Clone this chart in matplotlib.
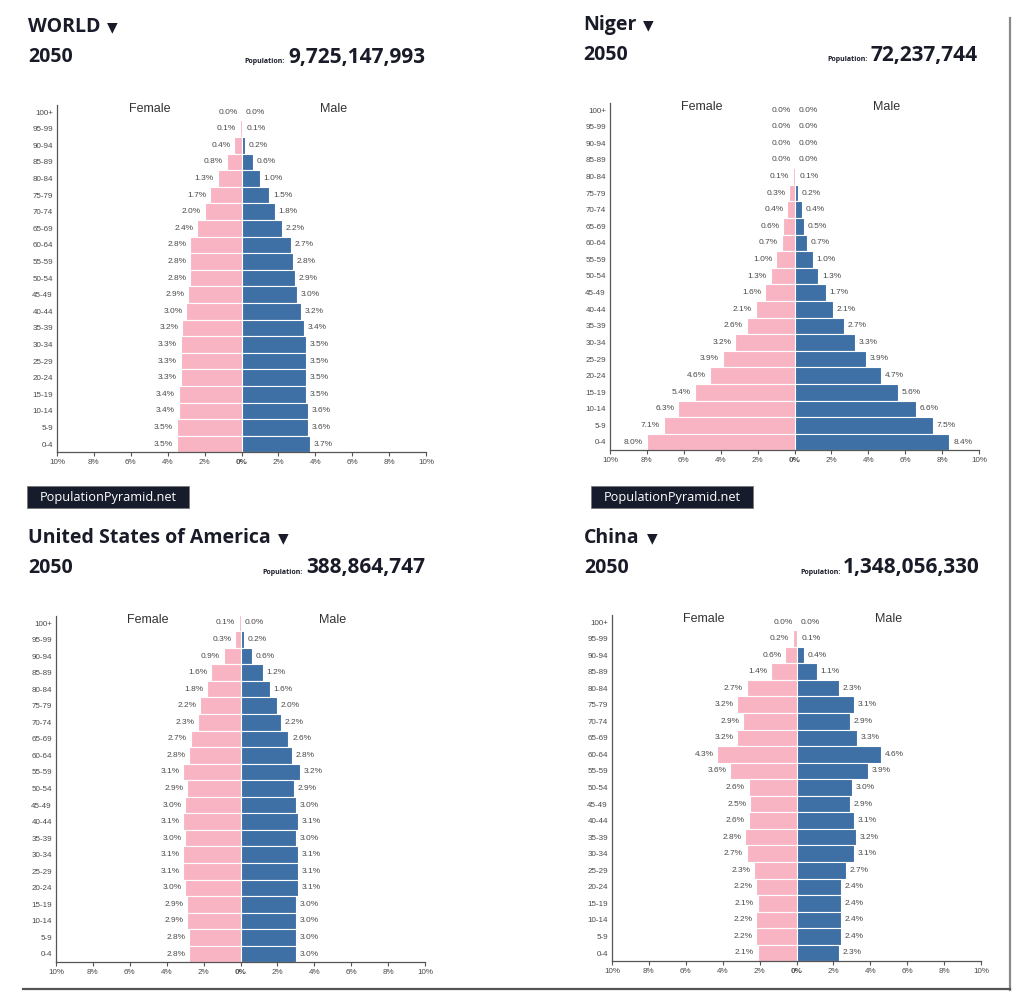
import numpy as np
import matplotlib
matplotlib.use("Agg")
import matplotlib.pyplot as plt
from matplotlib.patches import Rectangle
from matplotlib.lines import Line2D

W, H = 1024, 1007

ages = ["100+", "95-99", "90-94", "85-89", "80-84", "75-79", "70-74", "65-69",
        "60-64", "55-59", "50-54", "45-49", "40-44", "35-39", "30-34", "25-29",
        "20-24", "15-19", "10-14", "5-9", "0-4"]

# valores (de 100+ até 0-4), em %
world_f = [0.0, 0.1, 0.4, 0.8, 1.3, 1.7, 2.0, 2.4, 2.8, 2.8, 2.8, 2.9, 3.0, 3.2, 3.3, 3.3, 3.3, 3.4, 3.4, 3.5, 3.5]
world_m = [0.0, 0.1, 0.2, 0.6, 1.0, 1.5, 1.8, 2.2, 2.7, 2.8, 2.9, 3.0, 3.2, 3.4, 3.5, 3.5, 3.5, 3.5, 3.6, 3.6, 3.7]

niger_f = [0.0, 0.0, 0.0, 0.0, 0.1, 0.3, 0.4, 0.6, 0.7, 1.0, 1.3, 1.6, 2.1, 2.6, 3.2, 3.9, 4.6, 5.4, 6.3, 7.1, 8.0]
niger_m = [0.0, 0.0, 0.0, 0.0, 0.1, 0.2, 0.4, 0.5, 0.7, 1.0, 1.3, 1.7, 2.1, 2.7, 3.3, 3.9, 4.7, 5.6, 6.6, 7.5, 8.4]

usa_f = [0.1, 0.3, 0.9, 1.6, 1.8, 2.2, 2.3, 2.7, 2.8, 3.1, 2.9, 3.0, 3.1, 3.0, 3.1, 3.1, 3.0, 2.9, 2.9, 2.8, 2.8]
usa_m = [0.0, 0.2, 0.6, 1.2, 1.6, 2.0, 2.2, 2.6, 2.8, 3.2, 2.9, 3.0, 3.1, 3.0, 3.1, 3.1, 3.1, 3.0, 3.0, 3.0, 3.0]

china_f = [0.0, 0.2, 0.6, 1.4, 2.7, 3.2, 2.9, 3.2, 4.3, 3.6, 2.6, 2.5, 2.6, 2.8, 2.7, 2.3, 2.2, 2.1, 2.2, 2.2, 2.1]
china_m = [0.0, 0.1, 0.4, 1.1, 2.3, 3.1, 2.9, 3.3, 4.6, 3.9, 3.0, 2.9, 3.1, 3.2, 3.1, 2.7, 2.4, 2.4, 2.4, 2.4, 2.3]

names = ["WORLD", "Niger", "United States of America", "China"]
years = ["2050", "2050", "2050", "2050"]
populations = ["9,725,147,993", "72,237,744", "388,864,747", "1,348,056,330"]

xticks = [-10, -8, -6, -4, -2, 0, 2, 4, 6, 8, 10]
xtick_labels = ["10%", "8%", "6%", "4%", "2%", "0%", "2%", "4%", "6%", "8%", "10%"]

PINK = "#f8b4c3"
BLUE = "#3e70a5"
TXT = "#4a4a4a"
TITLE = "#191c28"
FONT = ["Liberation Sans", "DejaVu Sans"]
BOLD = ["Open Sans", "DejaVu Sans"]

fig = plt.figure(figsize=(W / 100, H / 100), dpi=100)
fig.patch.set_facecolor("white")

# eixo de fundo em pixels para textos e caixas
bg = fig.add_axes([0, 0, 1, 1])
bg.set_xlim(0, W)
bg.set_ylim(H, 0)
bg.axis("off")


def pyramid(left, right, bottom, row_top, row_bot, fem, mal):
    sp = (row_bot - row_top) / 20.0
    top = row_top - 7
    ax = fig.add_axes([left / W, 1 - bottom / H, (right - left) / W, (bottom - top) / H])
    ax.patch.set_alpha(0)
    y = np.arange(21)[::-1]
    fem = np.array(fem)
    mal = np.array(mal)
    ax.barh(y, -fem, height=1.0, color=PINK, edgecolor="white", linewidth=0.8)
    ax.barh(y, mal, height=1.0, color=BLUE, edgecolor="white", linewidth=0.8)
    ax.axvline(0, color="#bbbbbb", lw=0.6, zorder=0)
    for yi, f, m in zip(y, fem, mal):
        ax.text(-f - 0.2, yi, f"{f:.1f}%", ha="right", va="center",
                fontsize=6, color=TXT, family=FONT)
        ax.text(m + 0.2, yi, f"{m:.1f}%", ha="left", va="center",
                fontsize=6, color=TXT, family=FONT)
    ax.text(-5, 20.2, "Female", ha="center", va="center", fontsize=9, color="#333333", family=FONT)
    ax.text(5, 20.2, "Male", ha="center", va="center", fontsize=9, color="#333333", family=FONT)
    ax.set_xlim(-10, 10)
    ax.set_ylim(-(bottom - row_bot) / sp, 20 + 7 / sp)
    ax.set_yticks(y)
    ax.set_yticklabels(ages, fontsize=5.8, color=TXT, family=FONT)
    ax.set_xticks(xticks)
    ax.set_xticklabels(xtick_labels, fontsize=5.8, color=TXT, family=FONT)
    ax.get_xticklabels()[5].set_fontweight("bold")
    ax.tick_params(axis="y", length=0, pad=3)
    ax.tick_params(axis="x", length=3, width=0.8, color="#555555", pad=2)
    for s in ["top", "right"]:
        ax.spines[s].set_visible(False)
    for s in ["left", "bottom"]:
        ax.spines[s].set_color("#555555")
        ax.spines[s].set_linewidth(0.9)
    return ax


def header(x, y_title, y_year, x_right, name, year, pop):
    t = bg.text(x, y_title, name, ha="left", va="center", fontsize=14,
                fontweight="bold", color=TITLE, family=BOLD)
    bg.annotate("\u25bc", xy=(1, 0.5), xycoords=t, xytext=(5, 0), textcoords="offset points",
                ha="left", va="center", fontsize=10, color=TITLE, family=["DejaVu Sans"])
    bg.text(x, y_year, year, ha="left", va="center", fontsize=14,
            fontweight="bold", color=TITLE, family=BOLD)
    n = bg.text(x_right, y_year, pop, ha="right", va="center", fontsize=15,
                fontweight="bold", color=TITLE, family=BOLD)
    bg.annotate("Population:", xy=(0, 0.14), xycoords=n, xytext=(-2, 0), textcoords="offset points",
                ha="right", va="bottom", fontsize=5, fontweight="bold", color=TITLE, family=BOLD)


def badge(x, y):
    bg.add_patch(Rectangle((x, y), 162, 22, facecolor="#171c2c", edgecolor="#777777", lw=0.6))
    bg.text(x + 81, y + 11, "PopulationPyramid.net", ha="center", va="center",
            fontsize=9.2, color="white", family=["Open Sans", "DejaVu Sans"])


pyramid(57, 426, 452, 112, 444, world_f, world_m)
pyramid(610, 979, 450, 110, 442, niger_f, niger_m)
pyramid(56, 425, 962, 623, 954, usa_f, usa_m)
pyramid(612, 981, 961, 622, 953, china_f, china_m)

header(28, 27, 57, 425, names[0], years[0], populations[0])
header(583, 25, 55, 978, names[1], years[1], populations[1])
header(28, 538, 568, 425, names[2], years[2], populations[2])
header(584, 538, 568, 980, names[3], years[3], populations[3])

badge(27, 486)
badge(591, 486)

# moldura com sombra à direita e embaixo
bg.add_line(Line2D([1010, 1010], [18, 990], color="#8a8a8a", lw=1.6))
bg.add_line(Line2D([23, 1010], [989, 989], color="#555555", lw=1.6))

fig.savefig("out.png", dpi=100)
